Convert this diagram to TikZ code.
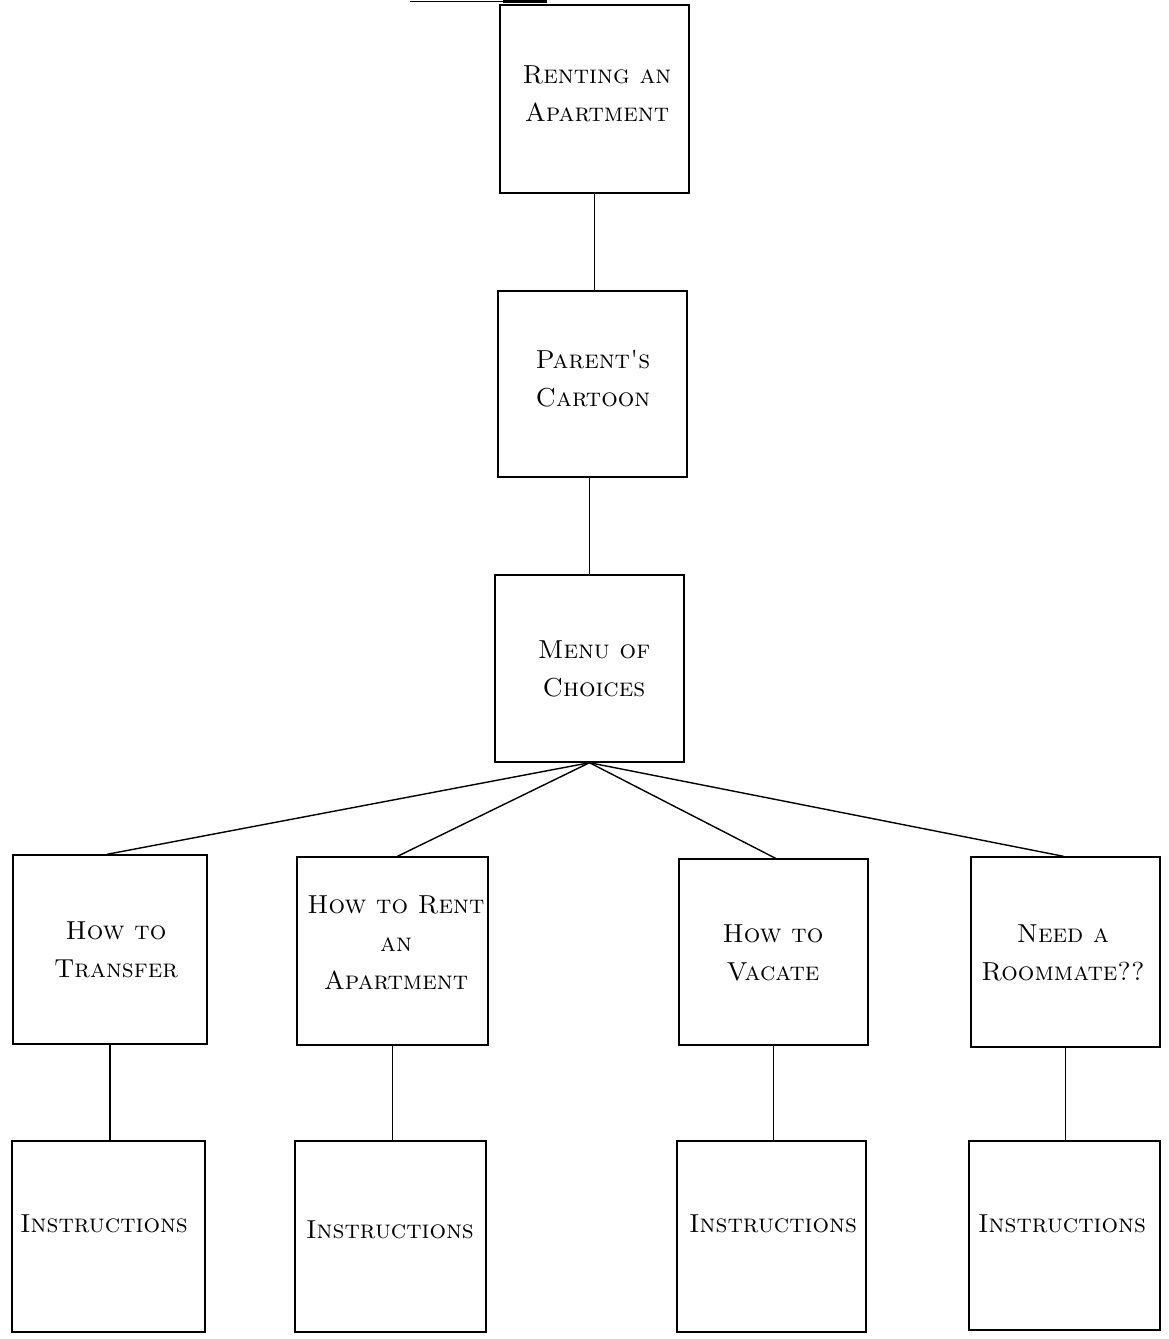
\documentclass[tikz,border=0pt]{standalone}
\usepackage{textcomp}
\usetikzlibrary{calc}
\begin{document}
\begin{tikzpicture}[x=1pt,y=-1pt,
  box/.style={draw=black,line width=1.4pt,rectangle,inner sep=0pt},
  txt/.style={align=center,inner sep=0pt,font=\fontsize{26}{38}\selectfont\scshape},
  link/.style={draw=black,line width=1.4pt}]
\useasboundingbox (0,0) rectangle (1168,1339);
% boxes
\node[box,minimum width=189pt,minimum height=188pt] (n1) at (594.5,99) {};
\node[box,minimum width=189pt,minimum height=186pt] (n2) at (592.5,384) {};
\node[box,minimum width=189pt,minimum height=187pt] (n3) at (589.5,668.5) {};
\node[box,minimum width=194pt,minimum height=189pt] (n4) at (110,949.5) {};
\node[box,minimum width=191pt,minimum height=188pt] (n5) at (392.5,951) {};
\node[box,minimum width=189pt,minimum height=186pt] (n6) at (773.5,952) {};
\node[box,minimum width=189pt,minimum height=190pt] (n7) at (1065.5,952) {};
\node[box,minimum width=193pt,minimum height=191pt] (i1) at (108.5,1236.5) {};
\node[box,minimum width=191pt,minimum height=191pt] (i2) at (390.5,1236.5) {};
\node[box,minimum width=189pt,minimum height=191pt] (i3) at (771.5,1236.5) {};
\node[box,minimum width=191pt,minimum height=189pt] (i4) at (1064.5,1235.5) {};
% texts
\node[txt] (t1) at (597,94) {Renting an\\Apartment};
\node[txt] (t2) at (593,379) {Parent\textquotesingle s\\Cartoon};
\node[txt] (t3) at (594,669) {Menu of\\Choices};
\node[txt] (t4) at (116,950) {How to\\Transfer};
\node[txt] (t5) at (396,943) {How to Rent\\an\\Apartment};
\node[txt] (t6) at (773,953) {How to\\Vacate};
\node[txt] (t7) at (1063,953) {Need a\\Roommate??};
\node[txt] (u1) at (104,1224) {Instructions};
\node[txt] (u2) at (390,1230) {Instructions};
\node[txt] (u3) at (773,1224) {Instructions};
\node[txt] (u4) at (1062,1224) {Instructions};
% top fragment
\coordinate (f1) at (410,1);
\coordinate (f2) at (503,1);
\coordinate (f3) at (547,1);
\draw[line width=1pt] (f1) -- (f2);
\draw[line width=3pt] (f2) -- (f3);
% connectors
\draw[link] (n1.south) -- (n1.south |- n2.north);
\draw[link] (n3.north |- n2.south) -- (n3.north);
\draw[link] (n3.south) -- ($(n4.north)+(-3,0)$);
\draw[link] (n3.south) -- ($(n5.north)+(5,0)$);
\draw[link] (n3.south) -- ($(n6.north)+(2,0)$);
\draw[link] (n3.south) -- ($(n7.north)+(-2,0)$);
\draw[link] (n4.south) -- (n4.south |- i1.north);
\draw[link] (n5.south) -- (n5.south |- i2.north);
\draw[link] (n6.south) -- (n6.south |- i3.north);
\draw[link] (n7.south) -- (n7.south |- i4.north);
\end{tikzpicture}
\end{document}
